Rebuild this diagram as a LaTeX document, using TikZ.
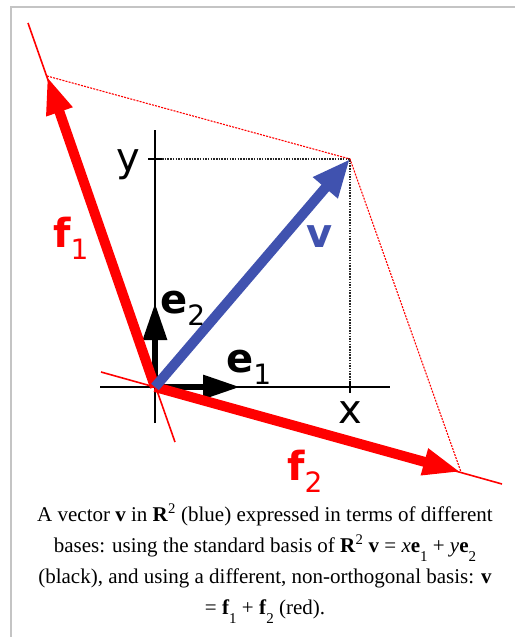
\documentclass[tikz,border=0pt]{standalone}
\usepackage{fontspec}
\setmainfont{Liberation Serif}
\newfontfamily\lblfont{DejaVu Sans}
\usepackage{tikz}
\usetikzlibrary{arrows.meta,positioning,calc}
\definecolor{vblue}{RGB}{64,82,175}
\definecolor{framegray}{RGB}{196,196,196}
\newcommand{\vlbl}[2]{{\bfseries #1}\raisebox{-12pt}{\fontsize{28}{28}\selectfont #2}}
\newcommand{\lowsub}[1]{\raisebox{-0.45em}{\fontsize{15}{15}\selectfont #1}}
\tikzset{
  frame/.style   ={draw=framegray,line width=2pt},
  axis/.style    ={black,line width=2pt},
  guide/.style   ={black!85,line width=1.1pt,dash pattern=on 1.5pt off 1.2pt},
  redguide/.style={red,line width=1.1pt,dash pattern=on 2pt off 1.2pt},
  fline/.style   ={red,line width=1.6pt},
  fvec/.style    ={red,line width=10pt,-{Triangle[length=38pt,width=25pt]}},
  vvec/.style    ={vblue,line width=10pt,-{Triangle[length=38pt,width=30pt]}},
  evec/.style    ={black,line width=6pt,-{Triangle[length=37pt,width=23pt]}},
  axlbl/.style   ={font=\lblfont\fontsize{40}{40}\selectfont,inner sep=0pt},
  veclbl/.style  ={font=\lblfont\fontsize{40}{40}\selectfont,inner sep=0pt},
  caption/.style ={font=\fontsize{21}{31}\selectfont,align=center,inner sep=0pt},
}
\begin{document}
\begin{tikzpicture}[x=1pt,y=-1pt]
  \useasboundingbox (0,0) rectangle (515,637);
  \draw[frame] (11,637) -- (11,7) -- (515,7);
  % points
  \coordinate (O) at (155,387);
  \coordinate (V) at (350,159);
  \coordinate (F1) at (47,76);   \coordinate (F2) at (461,472);
  \coordinate (E1) at (240,387); \coordinate (E2) at (155,303);
  \coordinate (f1a) at (175,442); \coordinate (f1b) at (28,23);
  \coordinate (f2a) at (101,372); \coordinate (f2b) at (502,484);
  % axes and ticks
  \draw[axis] (100,387) coordinate (xl) -- (390,387) coordinate (xr);
  \draw[axis] (155,423) coordinate (yb) -- (155,130) coordinate (yt);
  \draw[axis] (350,381) coordinate (xt1) -- (350,393) coordinate (xt2);
  \draw[axis] (148,159) coordinate (yt1) -- (162,159) coordinate (yt2);
  \node[axlbl,anchor=base] (xlbl) at (350,423){x};
  \node[axlbl,anchor=base] (ylbl) at (128,171){y};
  \draw[guide] (yt2) -- (V) -- (xt1);
  \draw[redguide] (F1) -- (V) -- (F2);
  \draw[fline] (f1a) -- (f1b);
  \draw[fline] (f2a) -- (f2b);
  \draw[evec] (O) -- (E1);
  \draw[evec] (O) -- (E2);
  \draw[fvec] (O) -- (F1);
  \draw[fvec] (O) -- (F2);
  \draw[vvec] (O) -- (V);
  \node[veclbl,vblue,anchor=base] (vlbl) at (320,247){\bfseries v};
  \node[veclbl,red,anchor=base west] (f1lbl) at (53,247){\vlbl{f}{1}};
  \node[veclbl,red,anchor=base west] (f2lbl) at (287,480){\vlbl{f}{2}};
  \node[veclbl,anchor=base west] (e1lbl) at (226,372){\vlbl{e}{1}};
  \node[veclbl,anchor=base west] (e2lbl) at (160,313){\vlbl{e}{2}};
  \node[caption,anchor=north] (cap) at (265,504){A vector \textbf{v} in \textbf{R}\textsuperscript{2} (blue) expressed in terms of different\\
    bases: using the standard basis of \textbf{R}\textsuperscript{2} \textbf{v} = \textit{x}\textbf{e}\lowsub{1} + \textit{y}\textbf{e}\lowsub{2}\\
    (black), and using a different, non-orthogonal basis: \textbf{v}\\
    = \textbf{f}\lowsub{1} + \textbf{f}\lowsub{2} (red).};
\end{tikzpicture}
\end{document}
